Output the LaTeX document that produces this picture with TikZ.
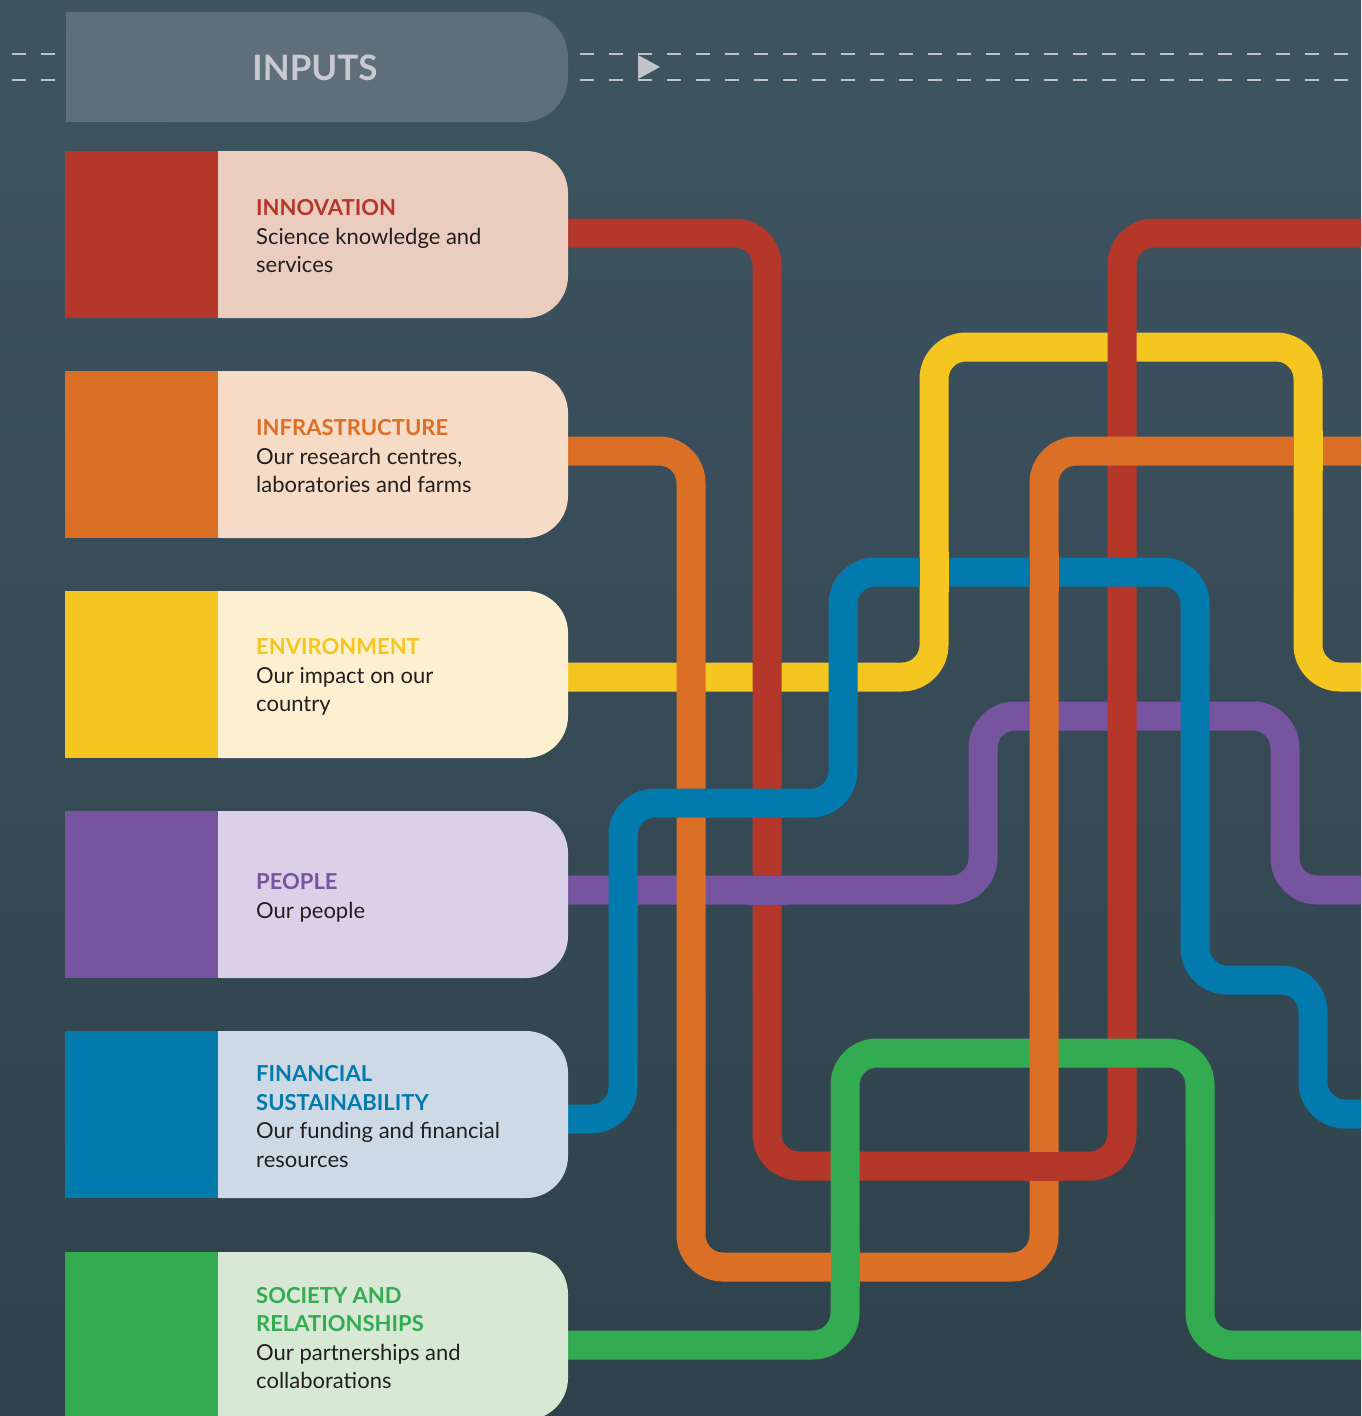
\documentclass[tikz,border=0pt]{standalone}
\usepackage{fontspec}
\setmainfont{Lato}

\definecolor{bgtop}{HTML}{3E5461}
\definecolor{bgbot}{HTML}{2F424B}
\definecolor{headbox}{HTML}{5E6F7A}
\definecolor{headtext}{HTML}{C9CAD1}
\definecolor{dashgrey}{HTML}{C0C3C8}
\definecolor{bodytext}{HTML}{231F20}
\definecolor{innored}{HTML}{B5372A}
\definecolor{innolight}{HTML}{EACDBF}
\definecolor{infraorange}{HTML}{DC6F26}
\definecolor{infralight}{HTML}{F6DBC6}
\definecolor{envyellow}{HTML}{F5C61F}
\definecolor{envlight}{HTML}{FDF0D0}
\definecolor{pplpurple}{HTML}{7654A0}
\definecolor{ppllight}{HTML}{DAD1E8}
\definecolor{finblue}{HTML}{037AAD}
\definecolor{finlight}{HTML}{CDDAE6}
\definecolor{socgreen}{HTML}{33AB50}
\definecolor{soclight}{HTML}{D7E8D5}

\tikzset{
	route/.style={line width=29pt, rounded corners=32pt},
	panel/.style={rounded corners=42pt},
	dashline/.style={dashgrey, line width=2.5pt, dash pattern=on 14pt off 15pt},
	captext/.style={anchor=west, inner sep=0pt, align=left, text=bodytext,
		font=\fontsize{22}{28.5}\selectfont},
}

\begin{document}
\begin{tikzpicture}[x=1pt, y=-1pt]
	\useasboundingbox (0,0) rectangle (1361,1416);
	\clip (0,0) rectangle (1361,1416);
	\shade[top color=bgtop, bottom color=bgbot] (0,0) rectangle (1361,1416);

	% header
	\draw[dashline] (12,54) -- (66,54);
	\draw[dashline] (12,80) -- (66,80);
	\draw[dashline] (580,54) -- (1361,54);
	\draw[dashline] (580,80) -- (1361,80);
	\fill[dashgrey] (638,55) -- (660,67) -- (638,79) -- cycle;
	\fill[headbox, rounded corners=45pt] (120,12) rectangle (568,122);
	\fill[headbox] (66,12) rectangle (200,122);
	\node[headtext, font=\fontsize{35}{40}\selectfont\bfseries] (inputs) at (315,68) {INPUTS};

	% ends of the routes
	\coordinate (inno-out) at (560,233);
	\coordinate (inno-end) at (1370,233);
	\coordinate (infra-out) at (560,451);
	\coordinate (infra-end) at (1370,451);
	\coordinate (env-out) at (560,677);
	\coordinate (env-end) at (1370,677);
	\coordinate (ppl-out) at (560,890);
	\coordinate (ppl-end) at (1370,890);
	\coordinate (fin-out) at (560,1119);
	\coordinate (fin-end) at (1370,1114);
	\coordinate (soc-out) at (560,1345);
	\coordinate (soc-end) at (1370,1345);

	% routes
	\draw[route, pplpurple] (ppl-out) -- (983,890) -- (983,716) -- (1285,716) -- (1285,890) -- (ppl-end);
	\draw[route, envyellow] (env-out) -- (934,677) -- (934,347) -- (1308,347) -- (1308,677) -- (env-end);
	\draw[route, innored] (inno-out) -- (767,233) -- (767,1166) -- (1122,1166) -- (1122,233) -- (inno-end);
	\draw[route, socgreen] (soc-out) -- (845,1345) -- (845,1053) -- (1200,1053) -- (1200,1345) -- (soc-end);
	\draw[route, infraorange] (infra-out) -- (691,451) -- (691,1267) -- (1044,1267) -- (1044,451) -- (infra-end);
	\draw[route, finblue] (fin-out) -- (623,1119) -- (623,803) -- (843,803) -- (843,572) -- (1195,572)
		-- (1195,980) -- (1313,980) -- (1313,1114) -- (fin-end);

	% crossings where the lower route goes over
	\draw[route, infraorange] (1044,552) -- (1044,592);
	\draw[route, innored] (1024,1166) -- (1064,1166);
	\draw[route, envyellow] (1308,431) -- (1308,471);
	\draw[route, envyellow] (934,552) -- (934,592);
	\draw[route, pplpurple] (747,890) -- (787,890);
	\draw[route, socgreen] (845,1247) -- (845,1287);

	% capitals
	\fill[panel, innolight] (180,151) rectangle (568,318);
	\fill[innored] (65,151) rectangle (218,318);
	\node[captext] (inno) at (256,236.5) {\textcolor{innored}{\bfseries INNOVATION}\\Science knowledge and\\services};

	\fill[panel, infralight] (180,371) rectangle (568,538);
	\fill[infraorange] (65,371) rectangle (218,538);
	\node[captext] (infra) at (256,456.5) {\textcolor{infraorange}{\bfseries INFRASTRUCTURE}\\Our research centres,\\laboratories and farms};

	\fill[panel, envlight] (180,591) rectangle (568,758);
	\fill[envyellow] (65,591) rectangle (218,758);
	\node[captext] (env) at (256,677) {\textcolor{envyellow}{\bfseries ENVIRONMENT}\\Our impact on our\\country};

	\fill[panel, ppllight] (180,811) rectangle (568,978);
	\fill[pplpurple] (65,811) rectangle (218,978);
	\node[captext] (ppl) at (256,898) {\textcolor{pplpurple}{\bfseries PEOPLE}\\Our people};

	\fill[panel, finlight] (180,1031) rectangle (568,1198);
	\fill[finblue] (65,1031) rectangle (218,1198);
	\node[captext] (fin) at (256,1116.5) {\textcolor{finblue}{\bfseries FINANCIAL}\\\textcolor{finblue}{\bfseries SUSTAINABILITY}\\Our funding and financial\\resources};

	\fill[panel, soclight] (180,1252) rectangle (568,1420);
	\fill[socgreen] (65,1252) rectangle (218,1420);
	\node[captext] (soc) at (256,1338) {\textcolor{socgreen}{\bfseries SOCIETY AND}\\\textcolor{socgreen}{\bfseries RELATIONSHIPS}\\Our partnerships and\\collaborations};
\end{tikzpicture}
\end{document}
